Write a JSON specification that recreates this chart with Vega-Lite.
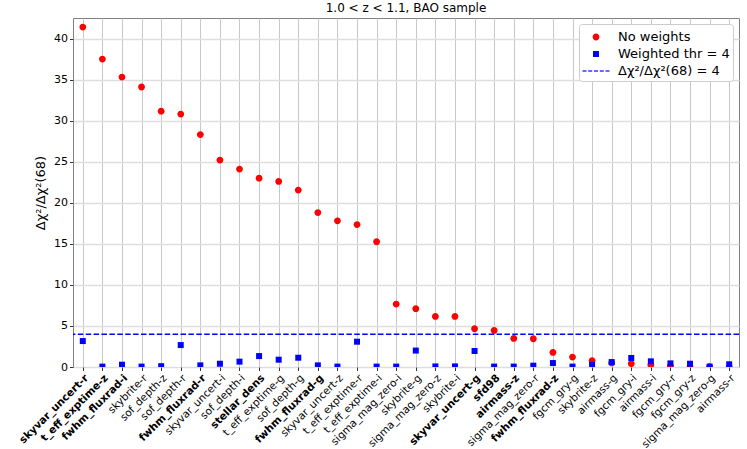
{
  "$schema": "https://vega.github.io/schema/vega-lite/v6.json",
  "width": 666,
  "height": 349,
  "autosize": {"type": "none"},
  "padding": {"left": 73, "top": 18, "right": 8, "bottom": 82},
  "title": {
    "text": "1.0 < z < 1.1, BAO sample",
    "fontSize": 12,
    "fontWeight": "normal",
    "color": "black",
    "offset": 3
  },
  "config": {
    "font": "DejaVu Sans",
    "view": {"stroke": "#808080"},
    "legend": {
      "orient": "top-right",
      "offset": 6,
      "title": null,
      "fillColor": "white",
      "strokeColor": "#cccccc",
      "cornerRadius": 3,
      "padding": 3,
      "rowPadding": 0,
      "labelFontSize": 13,
      "labelColor": "black",
      "labelOffset": 12,
      "symbolOffset": 4,
      "symbolSize": 400,
      "symbolStrokeWidth": 0
    }
  },
  "layer": [
    {
      "data": {
        "values": [
          {"feature": "skyvar_uncert-r", "No weights": 41.4, "Weighted thr = 4": 3.16},
          {"feature": "t_eff_exptime-z", "No weights": 37.5, "Weighted thr = 4": 0.05},
          {"feature": "fwhm_fluxrad-i", "No weights": 35.3, "Weighted thr = 4": 0.28},
          {"feature": "skybrite-r", "No weights": 34.1, "Weighted thr = 4": 0.05},
          {"feature": "sof_depth-z", "No weights": 31.15, "Weighted thr = 4": 0.1},
          {"feature": "sof_depth-r", "No weights": 30.8, "Weighted thr = 4": 2.67},
          {"feature": "fwhm_fluxrad-r", "No weights": 28.3, "Weighted thr = 4": 0.2},
          {"feature": "skyvar_uncert-i", "No weights": 25.2, "Weighted thr = 4": 0.4},
          {"feature": "sof_depth-i", "No weights": 24.1, "Weighted thr = 4": 0.65},
          {"feature": "stellar_dens", "No weights": 23.0, "Weighted thr = 4": 1.33},
          {"feature": "t_eff_exptime-g", "No weights": 22.6, "Weighted thr = 4": 0.89},
          {"feature": "sof_depth-g", "No weights": 21.55, "Weighted thr = 4": 1.13},
          {"feature": "fwhm_fluxrad-g", "No weights": 18.8, "Weighted thr = 4": 0.2},
          {"feature": "skyvar_uncert-z", "No weights": 17.8, "Weighted thr = 4": 0.05},
          {"feature": "t_eff_exptime-r", "No weights": 17.35, "Weighted thr = 4": 3.08},
          {"feature": "t_eff_exptime-i", "No weights": 15.25, "Weighted thr = 4": 0.05},
          {"feature": "sigma_mag_zero-i", "No weights": 7.66, "Weighted thr = 4": 0.05},
          {"feature": "skybrite-g", "No weights": 7.1, "Weighted thr = 4": 2.0},
          {"feature": "sigma_mag_zero-z", "No weights": 6.16, "Weighted thr = 4": 0.07},
          {"feature": "skybrite-i", "No weights": 6.16, "Weighted thr = 4": 0.07},
          {"feature": "skyvar_uncert-g", "No weights": 4.66, "Weighted thr = 4": 1.95},
          {"feature": "sfd98", "No weights": 4.45, "Weighted thr = 4": 0.05},
          {"feature": "airmass-z", "No weights": 3.48, "Weighted thr = 4": 0.05},
          {"feature": "sigma_mag_zero-r", "No weights": 3.44, "Weighted thr = 4": 0.16},
          {"feature": "fwhm_fluxrad-z", "No weights": 1.78, "Weighted thr = 4": 0.48},
          {"feature": "fgcm_gry-g", "No weights": 1.21, "Weighted thr = 4": 0.05},
          {"feature": "skybrite-z", "No weights": 0.77, "Weighted thr = 4": 0.28},
          {"feature": "airmass-g", "No weights": 0.5, "Weighted thr = 4": 0.6},
          {"feature": "fgcm_gry-i", "No weights": 0.4, "Weighted thr = 4": 1.1},
          {"feature": "airmass-i", "No weights": 0.25, "Weighted thr = 4": 0.69},
          {"feature": "fgcm_gry-r", "No weights": 0.12, "Weighted thr = 4": 0.44},
          {"feature": "fgcm_gry-z", "No weights": 0.02, "Weighted thr = 4": 0.4},
          {"feature": "sigma_mag_zero-g", "No weights": 0.03, "Weighted thr = 4": 0.05},
          {"feature": "airmass-r", "No weights": 0.01, "Weighted thr = 4": 0.33}
        ]
      },
      "transform": [
        {"fold": ["No weights", "Weighted thr = 4"], "as": ["series", "value"]}
      ],
      "mark": {"type": "point", "filled": true, "size": 400, "opacity": 1, "clip": true},
      "encoding": {
        "x": {
          "field": "feature",
          "type": "nominal",
          "sort": null,
          "scale": {"type": "point", "padding": 0.5},
          "axis": {
            "title": null,
            "domain": false,
            "grid": true,
            "gridColor": "#c8c8c8",
            "tickColor": "#333333",
            "tickSize": 3.5,
            "labelAngle": -45,
            "labelAlign": "right",
            "labelBaseline": "top",
            "labelPadding": 2,
            "labelFontSize": 10.5,
            "labelColor": "black",
            "labelOverlap": false,
            "labelFontWeight": {
              "condition": {
                "test": "indexof(['skyvar_uncert-r','t_eff_exptime-z','fwhm_fluxrad-i','fwhm_fluxrad-r','stellar_dens','fwhm_fluxrad-g','skyvar_uncert-g','sfd98','airmass-z','fwhm_fluxrad-z'], datum.value) >= 0",
                "value": "bold"
              },
              "value": "normal"
            }
          }
        },
        "y": {
          "field": "value",
          "type": "quantitative",
          "scale": {"domain": [0, 42.5], "nice": false},
          "axis": {
            "title": "Δχ²/Δχ²(68)",
            "titleFontSize": 13,
            "titleFontWeight": "normal",
            "titleColor": "black",
            "titlePadding": 6,
            "values": [0, 5, 10, 15, 20, 25, 30, 35, 40],
            "domain": false,
            "grid": true,
            "gridColor": "#dddddd",
            "gridWidth": 1.3,
            "tickColor": "#333333",
            "tickSize": 3.5,
            "labelPadding": 2,
            "labelFontSize": 11,
            "labelColor": "black"
          }
        },
        "color": {
          "field": "series",
          "type": "nominal",
          "scale": {
            "domain": ["No weights", "Weighted thr = 4", "Δχ²/Δχ²(68) = 4"],
            "range": ["#ff0000", "#0000ff", "#3333ff"]
          }
        },
        "shape": {
          "field": "series",
          "type": "nominal",
          "scale": {
            "domain": ["No weights", "Weighted thr = 4", "Δχ²/Δχ²(68) = 4"],
            "range": [
              "M0.34,0A0.34,0.34,0,1,1,-0.34,0A0.34,0.34,0,1,1,0.34,0Z",
              "M-0.3,-0.3H0.3V0.3H-0.3Z",
              "M-1.35,-0.075H-0.95V0.075H-1.35Z M-0.78,-0.075H-0.38V0.075H-0.78Z M-0.2,-0.075H0.2V0.075H-0.2Z M0.38,-0.075H0.78V0.075H0.38Z M0.95,-0.075H1.35V0.075H0.95Z"
            ]
          }
        }
      }
    },
    {
      "data": {"values": [{"thr": 4}]},
      "mark": {"type": "rule", "color": "#0000ff", "strokeDash": [5.5, 2.4], "strokeWidth": 1.5},
      "encoding": {
        "y": {"field": "thr", "type": "quantitative"}
      }
    }
  ]
}
